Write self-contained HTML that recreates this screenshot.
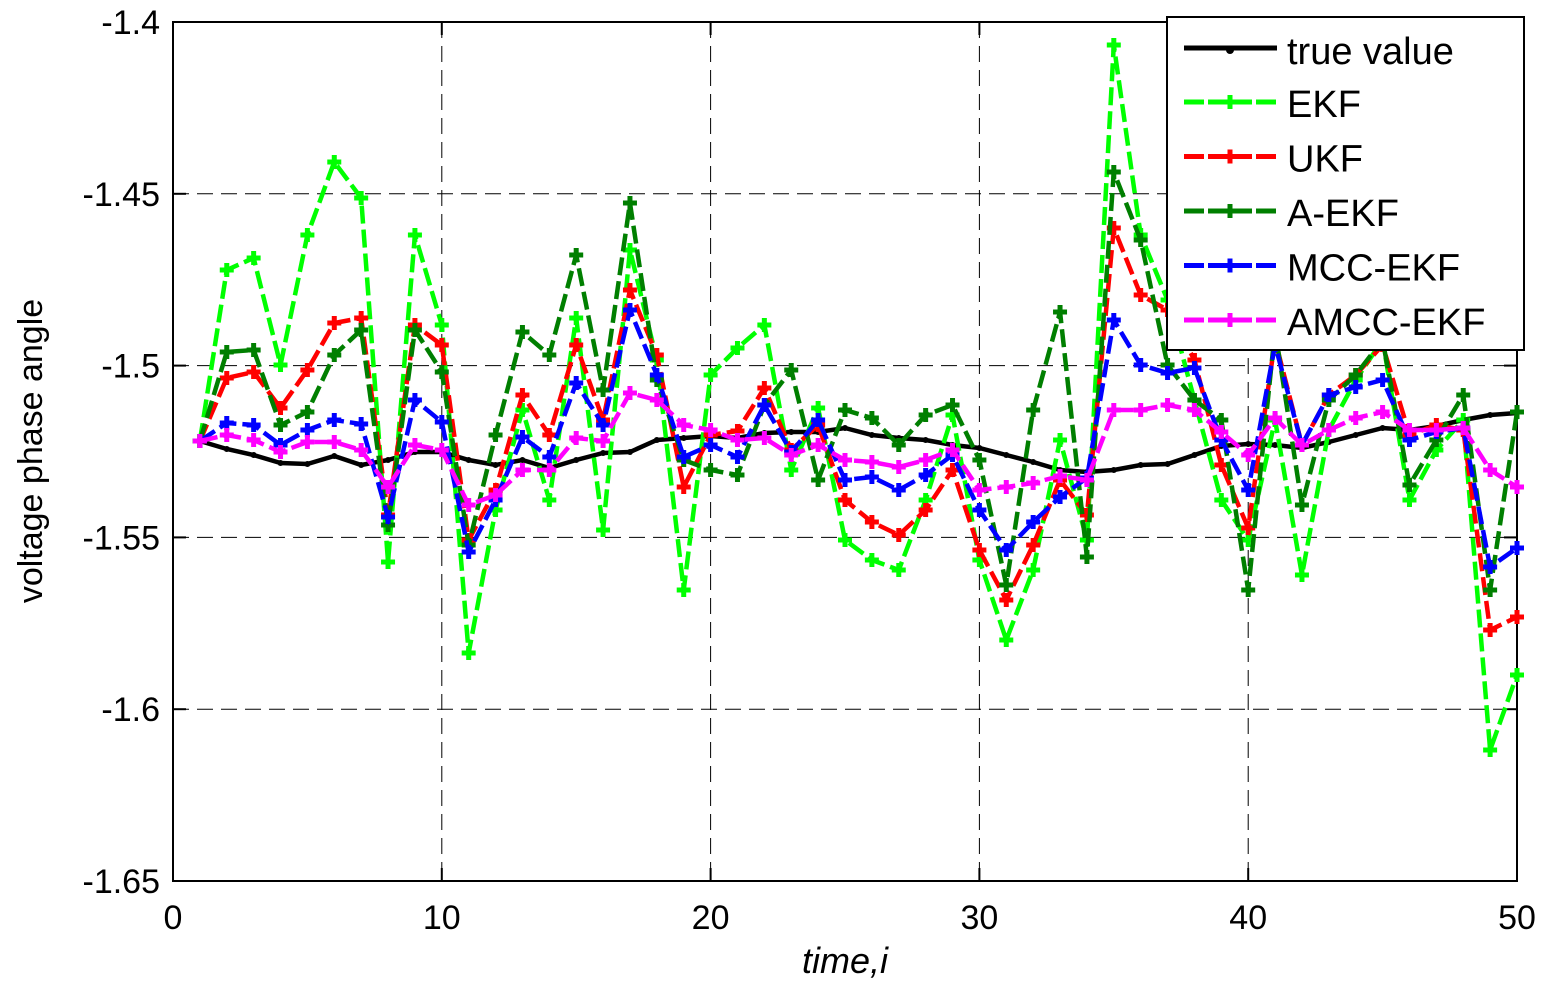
<!DOCTYPE html><html><head><style>body{margin:0;background:#fff}svg{display:block}text{font-family:"Liberation Sans",sans-serif}</style></head><body>
<svg id="s" width="1551" height="995" xmlns="http://www.w3.org/2000/svg"></svg>
<script>
const s=document.getElementById('s');let h='';
const X=i=>173+26.88*i;
h+='<rect x="173" y="22" width="1344" height="859" fill="#fff" stroke="#000" stroke-width="2"/>';
for(let k=1;k<5;k++){let x=173+268.8*k;h+=`<line x1="${x}" y1="22" x2="${x}" y2="881" stroke="#000" stroke-width="1" stroke-dasharray="16,8"/>`;}
for(let k=1;k<5;k++){let y=22+171.8*k;h+=`<line x1="173" y1="${y}" x2="1517" y2="${y}" stroke="#000" stroke-width="1" stroke-dasharray="16,8"/>`;}
const yl=['-1.4','-1.45','-1.5','-1.55','-1.6','-1.65'];
yl.forEach((t,k)=>{let y=22+171.8*k;h+=`<text x="160" y="${y+12}" font-size="34" text-anchor="end">${t}</text><line x1="173" y1="${y}" x2="186" y2="${y}" stroke="#000" stroke-width="2"/><line x1="1504" y1="${y}" x2="1517" y2="${y}" stroke="#000" stroke-width="2"/>`;});
for(let k=0;k<6;k++){let x=173+268.8*k;h+=`<text x="${x}" y="929" font-size="34" text-anchor="middle">${k*10}</text><line x1="${x}" y1="881" x2="${x}" y2="868" stroke="#000" stroke-width="2"/><line x1="${x}" y1="22" x2="${x}" y2="35" stroke="#000" stroke-width="2"/>`;}
h+='<text x="845" y="973" font-size="36" font-style="italic" text-anchor="middle">time,i</text>';
h+='<text transform="translate(42,451) rotate(-90)" font-size="34" text-anchor="middle">voltage phase angle</text>';
const D={
'#00ff00':[441,270,258,365,235,162,198,562,235,325,653,510,410,500,318,530,250,360,590,375,348,325,470,408,540,560,570,500,415,560,640,570,440,540,45,235,300,400,500,540,420,575,430,380,340,500,450,420,750,675],
'#ff0000':[441,378,372,408,370,323,318,515,325,345,540,490,395,435,345,420,290,355,487,435,431,388,450,425,500,522,535,510,470,550,600,545,480,515,228,295,310,360,465,528,340,445,395,375,345,435,425,430,630,617],
'#007f00':[441,352,350,425,412,355,330,525,330,372,545,435,332,355,255,390,203,380,460,470,475,405,370,480,410,418,445,415,405,460,585,410,312,557,172,240,365,400,420,590,330,505,400,375,340,485,440,395,590,412],
'#0000ff':[441,423,425,445,430,420,424,517,400,422,552,500,437,457,383,425,310,375,457,445,457,405,452,420,480,477,490,475,455,510,550,522,497,478,320,365,373,368,440,490,345,445,395,387,380,440,432,428,567,548],
'#ff00ff':[441,435,440,452,442,442,450,487,445,450,505,495,470,470,438,441,393,400,425,430,440,438,455,445,460,462,467,460,450,490,487,483,476,480,410,410,405,410,432,455,418,445,430,418,412,430,430,428,470,487]};
const T=[441,449,455,463,464,456,465,460,452,452,460,465,460,468,460,453,452,440,438,436,438,433,432,432,428,435,438,440,445,448,455,462,470,472,470,465,464,455,446,444,445,448,442,435,428,430,426,420,415,413];
const plus=(x,y,c)=>`<path d="M${x-7} ${y}H${x+7}M${x} ${y-7}V${y+7}" stroke="${c}" stroke-width="5"/>`;
h+=`<polyline points="${T.map((v,i)=>X(i+1)+','+v).join(' ')}" fill="none" stroke="#000" stroke-width="4.5"/>`;
T.forEach((v,i)=>h+=`<circle cx="${X(i+1)}" cy="${v}" r="3" fill="#000"/>`);
for(const c in D){const a=D[c];h+=`<polyline points="${a.map((v,i)=>X(i+1)+','+v).join(' ')}" fill="none" stroke="${c}" stroke-width="4.5" stroke-dasharray="18,6"/>`;a.forEach((v,i)=>h+=plus(X(i+1),v,c));}
h+='<rect x="1167" y="17" width="357" height="333" fill="#fff" stroke="#000" stroke-width="2"/>';
h+='<line x1="1184" y1="48" x2="1277" y2="48" stroke="#000" stroke-width="5"/><circle cx="1230" cy="50" r="4"/><text x="1287" y="64" font-size="38">true value</text>';
const L=[['#00ff00','EKF'],['#ff0000','UKF'],['#007f00','A-EKF'],['#0000ff','MCC-EKF'],['#ff00ff','AMCC-EKF']];
L.forEach((e,k)=>{let y=102+54.5*k;h+=`<line x1="1184" y1="${y}" x2="1277" y2="${y}" stroke="${e[0]}" stroke-width="5" stroke-dasharray="20,4"/>`+plus(1230,y,e[0])+`<text x="1287" y="${y+15}" font-size="38">${e[1]}</text>`;});
s.innerHTML=h;
</script></body></html>
